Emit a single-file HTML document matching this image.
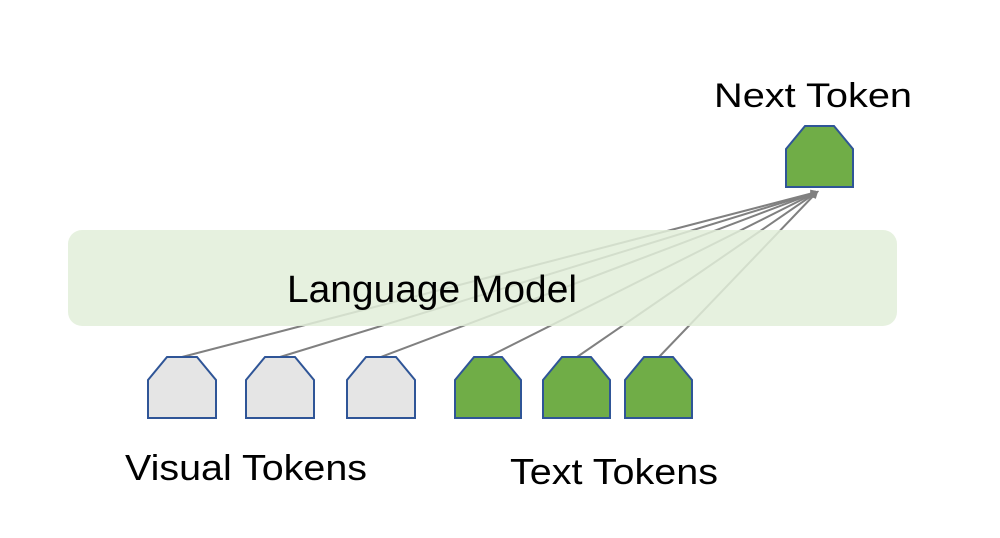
<!DOCTYPE html>
<html><head><meta charset="utf-8"><style>html,body{margin:0;padding:0;background:#fff}svg{display:block}</style></head>
<body>
<svg width="1000" height="538" viewBox="0 0 1000 538" xmlns="http://www.w3.org/2000/svg">
<defs>
<marker id="ah" markerWidth="8" markerHeight="8" refX="6" refY="4" orient="auto" markerUnits="userSpaceOnUse">
<path d="M0,0 L8,4 L0,8 z" fill="#808080"/>
</marker>
</defs>
<g stroke="#808080" stroke-width="2" fill="none">
<line x1="182" y1="357" x2="817" y2="192" marker-end="url(#ah)"/>
<line x1="280" y1="357" x2="817" y2="192" marker-end="url(#ah)"/>
<line x1="381" y1="357" x2="817" y2="192" marker-end="url(#ah)"/>
<line x1="488" y1="357" x2="817" y2="192" marker-end="url(#ah)"/>
<line x1="577" y1="357" x2="817" y2="192" marker-end="url(#ah)"/>
<line x1="659" y1="357" x2="817" y2="192" marker-end="url(#ah)"/>
</g>
<rect x="68" y="230" width="829" height="96" rx="14" fill="#e2efd9" fill-opacity="0.85"/>
<g stroke="#2f5597" stroke-width="2">
<polygon points="148,380 167,357 197,357 216,380 216,418 148,418" fill="#e5e5e5"/>
<polygon points="246,380 265,357 295,357 314,380 314,418 246,418" fill="#e5e5e5"/>
<polygon points="347,380 366,357 396,357 415,380 415,418 347,418" fill="#e5e5e5"/>
<polygon points="455,380 474,357 502,357 521,380 521,418 455,418" fill="#70ad47"/>
<polygon points="543,380 562,357 591,357 610,380 610,418 543,418" fill="#70ad47"/>
<polygon points="625,380 644,357 673,357 692,380 692,418 625,418" fill="#70ad47"/>
<polygon points="786,149 805,126 834,126 853,149 853,187 786,187" fill="#70ad47"/>
</g>
<g font-family="Liberation Sans, sans-serif" fill="#000">
<text x="714" y="107" font-size="34" textLength="198" lengthAdjust="spacingAndGlyphs">Next Token</text>
<text x="287" y="302" font-size="38" textLength="290" lengthAdjust="spacingAndGlyphs">Language Model</text>
<text x="125" y="480" font-size="36" textLength="242" lengthAdjust="spacingAndGlyphs">Visual Tokens</text>
<text x="510" y="484" font-size="36" textLength="208" lengthAdjust="spacingAndGlyphs">Text Tokens</text>
</g>
</svg>
</body></html>
